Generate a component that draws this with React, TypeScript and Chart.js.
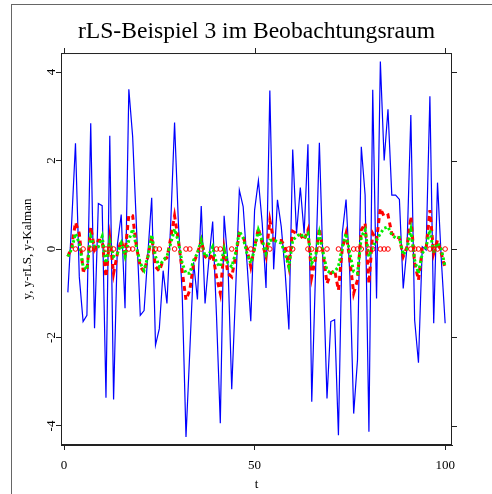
import React, { useEffect, useRef } from 'react';
import { Chart, registerables } from 'chart.js';

Chart.register(...registerables);

// time index
const tValues: number[] = Array.from({ length: 100 }, (_, i) => i + 1);

// observed y
const yObserved: number[] = [
  -0.98, 0.6, 2.39, -0.63, -1.64, -1.5, 2.84, -1.79, 1.03, 0.98,
  -3.36, 2.56, -3.4, 0.1, 0.78, -1.34, 3.61, 2.54, 0.5, -1.5,
  -1.39, -0.1, 1.16, -2.17, -1.8, -0.49, -1.23, 0.6, 2.86, 0.6,
  -1.0, -4.25, -2.3, -0.3, -1.14, 0.97, -1.23, -0.25, 0.62, -1.5,
  -3.94, 0.75, -0.3, -3.17, -1.0, 1.33, 0.96, -0.3, -1.63, 0.88,
  1.55, 0.58, -0.88, 3.58, -0.46, 1.11, 0.5, -0.5, -1.82, 2.25,
  0.35, 1.39, 0.35, 2.37, -3.45, -0.5, 2.4, -0.5, -3.38, -1.64,
  -1.6, -4.21, 0.35, 1.12, -0.6, -3.72, -2.51, 2.31, 1.22, -4.13,
  3.6, -1.12, 4.24, 2.0, 3.16, 1.22, 1.22, 1.12, -0.89, 0.05,
  3.03, -1.61, -2.57, 0.05, -0.02, 3.45, -1.68, 1.5, -0.25, -1.68,
];

// rLS estimate
const yRLS: number[] = [
  -0.17, 0.05, 0.6, 0.35, -0.48, -0.5, 0.5, 0.0, 0.2, 0.2,
  -0.63, 0.25, -0.55, -0.1, 0.2, -0.1, 0.77, 0.75, 0.05, -0.4,
  -0.52, -0.17, 0.28, -0.4, -0.5, -0.25, -0.2, 0.25, 0.75, 0.2,
  -0.5, -1.15, -0.93, -0.32, -0.1, 0.2, -0.17, -0.25, -0.1, -0.63,
  -1.0, 0.0, -0.55, -0.63, -0.17, 0.35, 0.28, 0.0, -0.4, 0.05,
  0.47, 0.13, -0.17, 0.65, 0.2, 0.19, 0.19, 0.05, -0.4, 0.4,
  0.35, 0.32, 0.2, 0.43, -0.63, -0.2, 0.47, -0.1, -0.78, -0.55,
  -0.48, -0.93, 0.0, 0.35, -0.25, -1.0, -0.7, 0.43, 0.58, -0.78,
  0.35, 0.2, 0.92, 0.73, 0.77, 0.35, 0.28, 0.25, -0.17, 0.05,
  0.73, -0.32, -0.7, 0.0, 0.0, 0.88, -0.1, 0.2, -0.1, -0.44,
];

// Kalman estimate
const yKalman: number[] = [
  -0.17, 0.0, 0.35, 0.13, -0.4, -0.46, 0.28, 0.05, 0.05, 0.28,
  -0.32, 0.17, -0.17, -0.1, 0.13, -0.17, 0.2, 0.45, 0.05, -0.32,
  -0.48, -0.17, 0.32, -0.17, -0.4, -0.25, -0.17, 0.13, 0.45, 0.17,
  -0.32, -0.55, -0.55, -0.25, -0.1, 0.2, -0.17, -0.13, 0.05, -0.32,
  -0.4, 0.0, -0.32, -0.4, -0.1, 0.4, 0.25, -0.1, -0.32, 0.0,
  0.43, 0.2, -0.1, 0.2, 0.2, 0.17, 0.13, -0.1, -0.4, 0.2,
  0.28, 0.35, 0.25, 0.35, -0.32, -0.17, 0.35, -0.1, -0.48, -0.55,
  -0.51, -0.4, 0.05, 0.35, -0.1, -0.51, -0.55, 0.28, 0.43, -0.17,
  0.05, 0.2, 0.35, 0.47, 0.5, 0.32, 0.25, 0.26, -0.13, 0.0,
  0.43, -0.25, -0.55, -0.1, 0.05, 0.43, -0.1, 0.13, 0.0, -0.4,
];

// open circles at zero
const circleT: number[] = [
  3, 5, 7, 8, 11, 12, 13, 17, 18, 24, 25, 29, 32, 33, 36, 40, 41, 44, 49,
  54, 59, 60, 64, 65, 67, 69, 72, 76, 77, 78, 80, 81, 83, 84, 85, 91, 92,
  93, 96, 97, 98, 100,
];
const circleY: number[] = [
  0, 0, 0, 0, 0, 0, 0, 0, 0, 0, 0, 0, 0, 0, 0, 0, 0, 0, 0,
  0, 0, 0, 0, 0, 0, 0, 0, 0, 0, 0, 0, 0, 0, 0, 0, 0, 0,
  0, 0, 0, 0, 0,
];

const xTickValues: number[] = [0, 50, 100];
const yTickValues: number[] = [-4, -2, 0, 2, 4];

const titleText = 'rLS-Beispiel 3 im Beobachtungsraum';
const xTitle = 't';
const yTitle = 'y, y-rLS, y-Kalman';

const FONT = "'Liberation Serif', 'Times New Roman', serif";

const framePlugin = {
  id: 'frame',
  beforeDraw(chart: any) {
    const ctx = chart.ctx;
    ctx.save();
    ctx.fillStyle = '#ffffff';
    ctx.fillRect(0, 0, chart.width, chart.height);
    ctx.strokeStyle = '#666666';
    ctx.lineWidth = 1;
    ctx.strokeRect(11.5, 4.5, chart.width + 20, chart.height + 20);
    ctx.restore();
  },
  afterDraw(chart: any) {
    const { ctx, chartArea: a, scales } = chart;
    ctx.save();
    ctx.strokeStyle = '#222222';
    ctx.lineWidth = 1;
    ctx.strokeRect(a.left + 0.5, a.top + 0.5, a.right - a.left - 1, a.bottom - a.top - 1);
    ctx.beginPath();
    xTickValues.forEach((v) => {
      const px = Math.round(scales.x.getPixelForValue(v)) + 0.5;
      ctx.moveTo(px, a.top);
      ctx.lineTo(px, a.top - 5);
    });
    yTickValues.forEach((v) => {
      const py = Math.round(scales.y.getPixelForValue(v)) + 0.5;
      ctx.moveTo(a.right, py);
      ctx.lineTo(a.right + 5, py);
    });
    ctx.stroke();
    ctx.restore();
  },
};

export default function App() {
  const canvasRef = useRef<HTMLCanvasElement | null>(null);

  useEffect(() => {
    if (!canvasRef.current) return;
    const chart = new Chart(canvasRef.current, {
      type: 'line',
      data: {
        datasets: [
          {
            label: 'y',
            data: tValues.map((t, i) => ({ x: t, y: yObserved[i] })),
            borderColor: '#0000ff',
            borderWidth: 1.2,
            pointRadius: 0,
            tension: 0,
            fill: false,
            order: 4,
          },
          {
            label: 'y-rLS',
            data: tValues.map((t, i) => ({ x: t, y: yRLS[i] })),
            borderColor: '#ff0000',
            borderWidth: 3,
            borderDash: [5, 4],
            pointRadius: 0,
            tension: 0,
            fill: false,
            order: 3,
          },
          {
            label: 'y-Kalman',
            data: tValues.map((t, i) => ({ x: t, y: yKalman[i] })),
            borderColor: '#00ee00',
            borderWidth: 3,
            borderDash: [2.5, 2.5],
            pointRadius: 0,
            tension: 0,
            fill: false,
            order: 2,
          },
          {
            label: 'zero',
            data: circleT.map((t, i) => ({ x: t, y: circleY[i] })),
            showLine: false,
            borderColor: '#ff0000',
            backgroundColor: 'rgba(0,0,0,0)',
            borderWidth: 1,
            pointRadius: 2.3,
            pointStyle: 'circle',
            order: 1,
          },
        ],
      },
      options: {
        animation: false,
        responsive: false,
        devicePixelRatio: 1,
        events: [],
        layout: { padding: { left: 0, right: 40, top: 0, bottom: 0 } },
        plugins: {
          legend: { display: false },
          tooltip: { enabled: false },
          title: {
            display: true,
            text: titleText,
            fullSize: false,
            color: '#000000',
            font: { family: FONT, size: 23.6, weight: 'normal' },
            padding: { top: 17.7, bottom: 7.0 },
          },
        },
        scales: {
          x: {
            type: 'linear',
            min: -0.8,
            max: 101.8,
            afterBuildTicks: (scale: any) => {
              scale.ticks = xTickValues.map((v) => ({ value: v }));
            },
            afterFit: (scale: any) => {
              scale.height = 49;
            },
            grid: {
              display: true,
              drawOnChartArea: false,
              drawTicks: true,
              tickLength: 5,
              color: '#222222',
            },
            border: { display: true, color: '#222222' },
            ticks: {
              color: '#000000',
              font: { family: FONT, size: 13 },
              padding: 7.7,
              maxRotation: 0,
              autoSkip: false,
            },
            title: {
              display: true,
              text: xTitle,
              color: '#000000',
              font: { family: FONT, size: 13 },
              padding: { top: 0, bottom: 1.2 },
            },
          },
          y: {
            type: 'linear',
            min: -4.43,
            max: 4.43,
            afterBuildTicks: (scale: any) => {
              scale.ticks = yTickValues.map((v) => ({ value: v }));
            },
            afterFit: (scale: any) => {
              scale.width = 61;
            },
            grid: {
              display: true,
              drawOnChartArea: false,
              drawTicks: true,
              tickLength: 5,
              color: '#222222',
            },
            border: { display: true, color: '#222222' },
            ticks: {
              color: '#000000',
              font: { family: FONT, size: 13 },
              padding: -1.2,
              minRotation: 90,
              maxRotation: 90,
              crossAlign: 'center',
              autoSkip: false,
            },
            title: {
              display: true,
              text: yTitle,
              color: '#000000',
              font: { family: FONT, size: 13 },
              padding: { top: 20.2, bottom: 0 },
            },
          },
        },
      },
      plugins: [framePlugin],
    } as any);
    return () => {
      chart.destroy();
    };
  }, []);

  return (
    <div style={{ position: 'fixed', left: 0, top: 0, width: 492, height: 494 }}>
      <canvas ref={canvasRef} width={492} height={494} style={{ display: 'block' }} />
    </div>
  );
}
